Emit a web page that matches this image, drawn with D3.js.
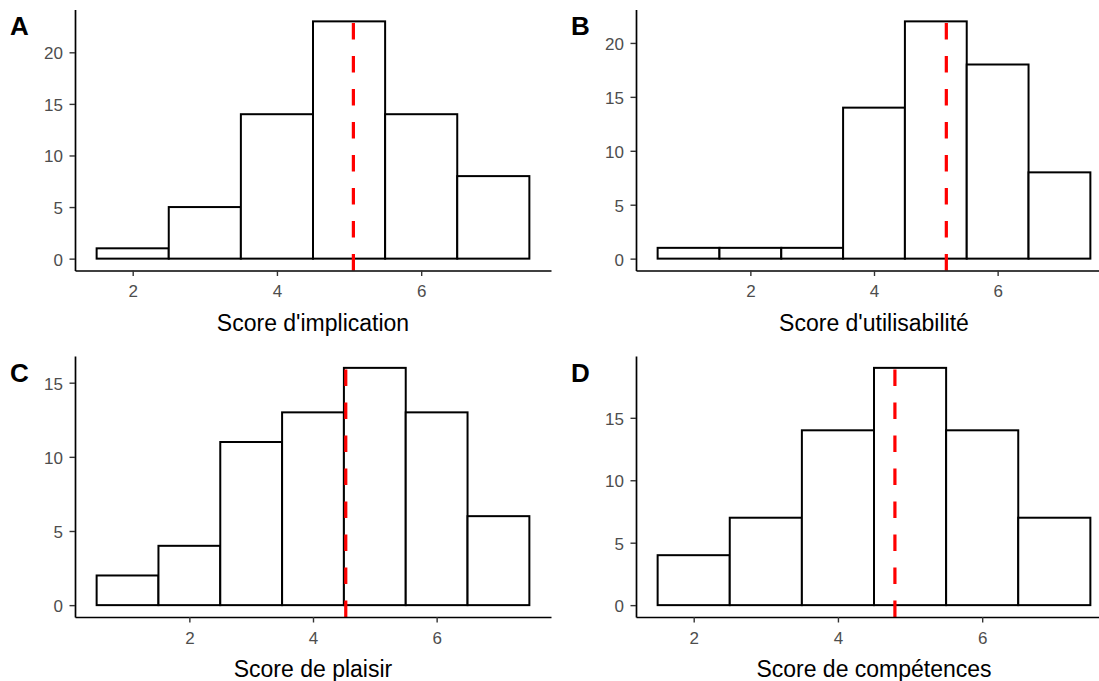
<!DOCTYPE html>
<html>
<head>
<meta charset="utf-8">
<script src="https://cdn.jsdelivr.net/npm/d3@7"></script>
<style>
  html, body { margin: 0; padding: 0; background: #ffffff; }
  svg { display: block; font-family: "Liberation Sans", Arial, sans-serif; }
</style>
</head>
<body>
<svg id="chart" width="1099" height="681"></svg>
<script>
// ---- data ----
const labels = ["A", "B", "C", "D"];
const titles = ["Score d'implication", "Score d'utilisabilité", "Score de plaisir", "Score de compétences"];

const binsA = [2, 3, 4, 5, 6, 7];
const countsA = [1, 5, 14, 23, 14, 8];
const meanA = 5.06;

const binsB = [1, 2, 3, 4, 5, 6, 7];
const countsB = [1, 1, 1, 14, 22, 18, 8];
const meanB = 5.17;

const binsC = [1, 2, 3, 4, 5, 6, 7];
const countsC = [2, 4, 11, 13, 16, 13, 6];
const meanC = 4.53;

const binsD = [2, 3, 4, 5, 6, 7];
const countsD = [4, 7, 14, 19, 14, 7];
const meanD = 4.79;

const xTicks = [2, 4, 6];
const yTicks = [0, 5, 10, 15, 20];

// ---- layout ----
const panels = [
  { label: labels[0], title: titles[0], bins: binsA, counts: countsA, mean: meanA, ox: 0,   oy: 0 },
  { label: labels[1], title: titles[1], bins: binsB, counts: countsB, mean: meanB, ox: 561, oy: 0 },
  { label: labels[2], title: titles[2], bins: binsC, counts: countsC, mean: meanC, ox: 0,   oy: 346.5 },
  { label: labels[3], title: titles[3], bins: binsD, counts: countsD, mean: meanD, ox: 561, oy: 346.5 }
];
const plot = { left: 75, right: 551, top: 9.5, bottom: 270.5 };
const tickColor = "#4D4D4D";

const svg = d3.select("#chart");

panels.forEach(p => {
  const g = svg.append("g").attr("transform", `translate(${p.ox},${p.oy})`);

  const xmin = d3.min(p.bins) - 0.5, xmax = d3.max(p.bins) + 0.5;
  const xpad = (xmax - xmin) * 0.05;
  const x = d3.scaleLinear().domain([xmin - xpad, xmax + xpad]).range([plot.left, plot.right]);

  const ymax = d3.max(p.counts);
  const ypad = ymax * 0.05;
  const y = d3.scaleLinear().domain([-ypad, ymax + ypad]).range([plot.bottom, plot.top]);

  // bars
  g.selectAll("rect.bar")
    .data(p.bins.map((b, i) => ({ b, c: p.counts[i] })))
    .join("rect")
    .attr("class", "bar")
    .attr("x", d => x(d.b - 0.5))
    .attr("width", d => x(d.b + 0.5) - x(d.b - 0.5))
    .attr("y", d => y(d.c))
    .attr("height", d => y(0) - y(d.c))
    .attr("fill", "#ffffff")
    .attr("stroke", "#000000")
    .attr("stroke-width", 2);

  // mean line
  g.append("line")
    .attr("x1", x(p.mean)).attr("x2", x(p.mean))
    .attr("y1", plot.bottom).attr("y2", plot.top)
    .attr("stroke", "#FF0000")
    .attr("stroke-width", 3.2)
    .attr("stroke-dasharray", "16.5,16.5");

  // axes
  const yt = yTicks.filter(t => t <= ymax + ypad);
  const xAxis = d3.axisBottom(x).tickValues(xTicks).tickFormat(d3.format("d"))
    .tickSize(5.5).tickSizeOuter(0).tickPadding(9);
  const yAxis = d3.axisLeft(y).tickValues(yt).tickFormat(d3.format("d"))
    .tickSize(5.5).tickSizeOuter(0).tickPadding(6.5);

  const gx = g.append("g").attr("transform", `translate(0,${plot.bottom})`).call(xAxis);
  const gy = g.append("g").attr("transform", `translate(${plot.left},0)`).call(yAxis);

  [gx, gy].forEach(ax => {
    ax.select(".domain").attr("stroke", "#000").attr("stroke-width", 1.7);
    ax.selectAll(".tick line").attr("stroke", "#333").attr("stroke-width", 1.4);
    ax.selectAll(".tick text").attr("fill", tickColor).attr("font-size", 17)
      .attr("font-family", "Liberation Sans, Arial, sans-serif");
  });
  gy.selectAll(".tick text").attr("dy", "0.38em");

  // axis title
  g.append("text")
    .attr("x", (plot.left + plot.right) / 2)
    .attr("y", 330.5)
    .attr("text-anchor", "middle")
    .attr("font-size", 23)
    .attr("fill", "#000")
    .text(p.title);

  // panel label
  g.append("text")
    .attr("x", 10)
    .attr("y", 35)
    .attr("font-size", 26)
    .attr("font-weight", "bold")
    .attr("fill", "#000")
    .text(p.label);
});
</script>
</body>
</html>
